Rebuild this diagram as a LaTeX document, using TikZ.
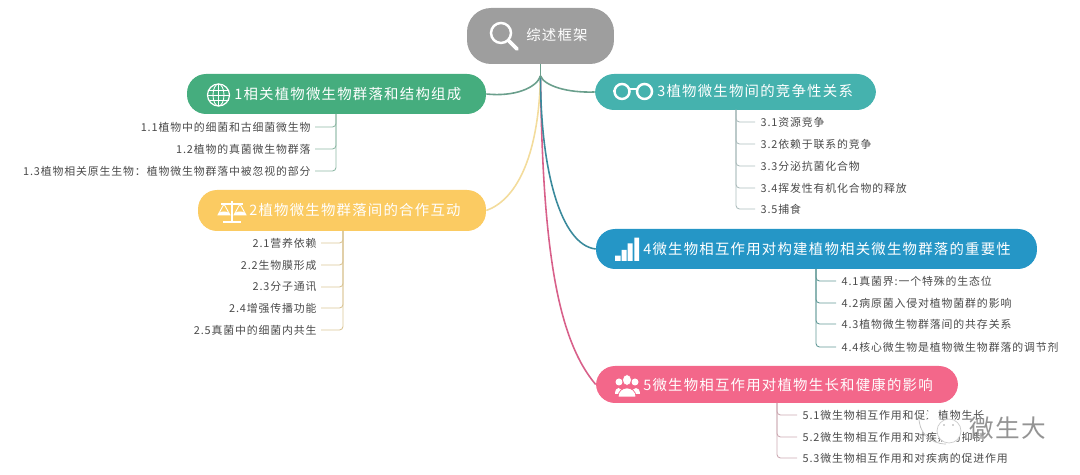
\documentclass[tikz,border=0pt]{standalone}
\usepackage{fontspec}
\setmainfont{Noto Sans CJK SC}
\newfontfamily\leaffont{Noto Sans CJK SC}[LetterSpace=8]
\newfontfamily\titlefont{Noto Sans CJK SC}[LetterSpace=8.5]
\newfontfamily\markfont{Noto Sans CJK SC}[LetterSpace=5]
\definecolor{rootgrey}{HTML}{9E9E9E}
\definecolor{greenone}{HTML}{45AD7E}
\definecolor{yellowtwo}{HTML}{FBCB62}
\definecolor{tealthree}{HTML}{45B2AE}
\definecolor{bluefour}{HTML}{2596C6}
\definecolor{pinkfive}{HTML}{F3678A}
\definecolor{leaftext}{HTML}{4A4A4A}
\definecolor{stemgreen}{HTML}{6A9F8C}
\definecolor{paleyellow}{HTML}{F3DC9C}
\definecolor{bluestem}{HTML}{3A8A9C}
\definecolor{pinkstem}{HTML}{D8608A}
\tikzset{
    branchbox/.style={rounded corners=0.38cm, inner sep=0pt},
    titletext/.style={anchor=west, inner sep=0pt, text=white, font=\titlefont\fontsize{8.2}{10}\selectfont},
    leafleft/.style={anchor=east, inner sep=2.3pt, text=leaftext, font=\leaffont\fontsize{6.2}{8}\selectfont},
    leafright/.style={anchor=west, inner sep=3pt, text=leaftext, font=\leaffont\fontsize{6.2}{8}\selectfont},
    mainline/.style={line width=0.9pt},
    treeline/.style={line width=0.5pt, rounded corners=2pt},
    icon/.style={draw=white, line width=0.9pt}
}
\begin{document}
\begin{tikzpicture}[x=0.02cm, y=-0.02cm]
    \useasboundingbox (0,0) rectangle (1080,475);

    \node[branchbox, fill=rootgrey, minimum width=2.94cm, minimum height=1.12cm, rounded corners=0.48cm] (root) at (540.5,36) {};
    \node[titletext] (roottitle) at (526,35) {综述框架};
    \node[branchbox, fill=greenone, minimum width=5.98cm, minimum height=0.8cm] (branch1) at (336.5,94) {};
    \node[titletext] (title1) at (234,94) {1相关植物微生物群落和结构组成};
    \node[branchbox, fill=yellowtwo, minimum width=5.76cm, minimum height=0.82cm] (branch2) at (342,210.5) {};
    \node[titletext] (title2) at (249,210) {2植物微生物群落间的合作互动};
    \node[branchbox, fill=tealthree, minimum width=5.62cm, minimum height=0.72cm] (branch3) at (735.5,92) {};
    \node[titletext] (title3) at (657,91) {3植物微生物间的竞争性关系};
    \node[branchbox, fill=bluefour, minimum width=8.82cm, minimum height=0.8cm] (branch4) at (816.5,249) {};
    \node[titletext] (title4) at (643,249) {4微生物相互作用对构建植物相关微生物群落的重要性};
    \node[branchbox, fill=pinkfive, minimum width=7.24cm, minimum height=0.74cm] (branch5) at (777,384.5) {};
    \node[titletext] (title5) at (643,385) {5微生物相互作用对植物生长和健康的影响};

    \coordinate (fork) at (540.5,76);
    \draw[mainline, color=pinkstem] (fork) .. controls +(2,174) and +(-38,-45) .. (branch5.west);
    \draw[mainline, color=paleyellow] (fork) .. controls +(-2,85) and +(28,-10) .. (branch2.east);
    \draw[mainline, color=bluestem] (fork) .. controls +(0,94) and +(-35,-4) .. (branch4.west);
    \draw[mainline, color=stemgreen] (root.south) -- (fork);
    \draw[mainline, color=stemgreen] (fork) .. controls +(-4,12) and +(28,3) .. (branch1.east);
    \draw[mainline, color=stemgreen] (fork) .. controls +(4,10) and +(-27,1) .. (branch3.west);

    \node[leafleft] (leaf11) at (315,127) {1.1植物中的细菌和古细菌微生物};
    \node[leafleft] (leaf12) at (315,149) {1.2植物的真菌微生物群落};
    \node[leafleft] (leaf13) at (315,171) {1.3植物相关原生生物：植物微生物群落中被忽视的部分};
    \coordinate (trunk1) at (336,114);
    \draw[treeline, color=greenone!40!lightgray] (trunk1) |- (leaf11.east);
    \draw[treeline, color=greenone!40!lightgray] (trunk1) |- (leaf12.east);
    \draw[treeline, color=greenone!40!lightgray] (trunk1) |- (leaf13.east);

    \node[leafleft] (leaf21) at (321,243) {2.1营养依赖};
    \node[leafleft] (leaf22) at (321,265) {2.2生物膜形成};
    \node[leafleft] (leaf23) at (321,287) {2.3分子通讯};
    \node[leafleft] (leaf24) at (321,308) {2.4增强传播功能};
    \node[leafleft] (leaf25) at (321,330) {2.5真菌中的细菌内共生};
    \coordinate (trunk2) at (343,231);
    \draw[treeline, color=yellowtwo!45!lightgray] (trunk2) |- (leaf21.east);
    \draw[treeline, color=yellowtwo!45!lightgray] (trunk2) |- (leaf22.east);
    \draw[treeline, color=yellowtwo!45!lightgray] (trunk2) |- (leaf23.east);
    \draw[treeline, color=yellowtwo!45!lightgray] (trunk2) |- (leaf24.east);
    \draw[treeline, color=yellowtwo!45!lightgray] (trunk2) |- (leaf25.east);

    \node[leafright] (leaf31) at (755,122) {3.1资源竞争};
    \node[leafright] (leaf32) at (755,144) {3.2依赖于联系的竞争};
    \node[leafright] (leaf33) at (755,166) {3.3分泌抗菌化合物};
    \node[leafright] (leaf34) at (755,188) {3.4挥发性有机化合物的释放};
    \node[leafright] (leaf35) at (755,209) {3.5捕食};
    \coordinate (trunk3) at (736,110);
    \draw[treeline, color=tealthree!15!lightgray] (trunk3) |- (leaf31.west);
    \draw[treeline, color=tealthree!15!lightgray] (trunk3) |- (leaf32.west);
    \draw[treeline, color=tealthree!15!lightgray] (trunk3) |- (leaf33.west);
    \draw[treeline, color=tealthree!15!lightgray] (trunk3) |- (leaf34.west);
    \draw[treeline, color=tealthree!15!lightgray] (trunk3) |- (leaf35.west);

    \node[leafright] (leaf41) at (836,281) {4.1真菌界:一个特殊的生态位};
    \node[leafright] (leaf42) at (836,303) {4.2病原菌入侵对植物菌群的影响};
    \node[leafright] (leaf43) at (836,324) {4.3植物微生物群落间的共存关系};
    \node[leafright] (leaf44) at (836,347) {4.4核心微生物是植物微生物群落的调节剂};
    \coordinate (trunk4) at (816,269);
    \draw[treeline, color=tealthree!50!gray] (trunk4) |- (leaf41.west);
    \draw[treeline, color=tealthree!50!gray] (trunk4) |- (leaf42.west);
    \draw[treeline, color=tealthree!50!gray] (trunk4) |- (leaf43.west);
    \draw[treeline, color=tealthree!50!gray] (trunk4) |- (leaf44.west);

    \node[leafright] (leaf51) at (797,415) {5.1微生物相互作用和促进植物生长};
    \node[leafright] (leaf52) at (797,437) {5.2微生物相互作用和对疾病的抑制};
    \node[leafright] (leaf53) at (797,458) {5.3微生物相互作用和对疾病的促进作用};
    \coordinate (trunk5) at (777,403);
    \draw[treeline, color=pinkfive!25!lightgray] (trunk5) |- (leaf51.west);
    \draw[treeline, color=pinkfive!25!lightgray] (trunk5) |- (leaf52.west);
    \draw[treeline, color=pinkfive!25!lightgray] (trunk5) |- (leaf53.west);

    \draw[icon, line width=1.4pt] (501,33) circle (10);
    \draw[icon, line width=2.2pt, line cap=round] (509,41) -- (517,49);

    \draw[icon, line width=0.7pt] (218.5,95) circle (11);
    \draw[icon, line width=0.5pt] (218.5,95) ellipse (5.5 and 11);
    \draw[icon, line width=0.5pt] (218.5,84) -- (218.5,106);
    \draw[icon, line width=0.5pt] (208.5,90) -- (228.5,90) (207.5,95) -- (229.5,95) (208.5,100) -- (228.5,100);

    \draw[icon, line width=0.8pt] (232,201) -- (232,221) (223,222) -- (241,222) (221,204) -- (243,204);
    \draw[icon, line width=0.5pt] (224,204) -- (218,215) -- (230,215) -- cycle (240,204) -- (234,215) -- (246,215) -- cycle;
    \fill[white] (218,215) arc (180:360:6 and 3.5) -- cycle (234,215) arc (180:360:6 and 3.5) -- cycle;

    \draw[icon, line width=1.4pt] (622,91.5) circle (7.5) (644.5,91.5) circle (7.5);
    \draw[icon, line width=1.4pt] (629.5,89) -- (637,89) (614.5,91) -- (613,91);

    \fill[white] (615,255.7) rectangle (620.7,261) (621.7,250) rectangle (626.7,261) (627.7,243.3) rectangle (632.7,261) (634.3,237.7) rectangle (639,261);

    \fill[white] (619,382) circle (3.5) (635,382) circle (3.5) (615,394) .. controls (615,386) and (622,386) .. (622,394) -- cycle (632,394) .. controls (632,386) and (640,386) .. (640,394) -- cycle;
    \fill[white, draw=pinkfive, line width=0.4pt] (627,380) ellipse (4.5 and 5.5) (618,397) .. controls (618,385) and (636,385) .. (636,397) -- cycle;

    \fill[white] (933,415) circle (6);
    \fill[white, draw=black!20, line width=0.4pt] (949,431) circle (12);
    \draw[black!25, line width=0.4pt] (919,416) .. controls (918,432) and (930,444) .. (946,444);
    \fill[black!35] (944,425) circle (0.8) (953,425) circle (0.8);
    \node[inner sep=0pt, text=black!42, font=\markfont\fontsize{14}{16}\selectfont] (watermark) at (1008,428) {微生大};
\end{tikzpicture}
\end{document}
